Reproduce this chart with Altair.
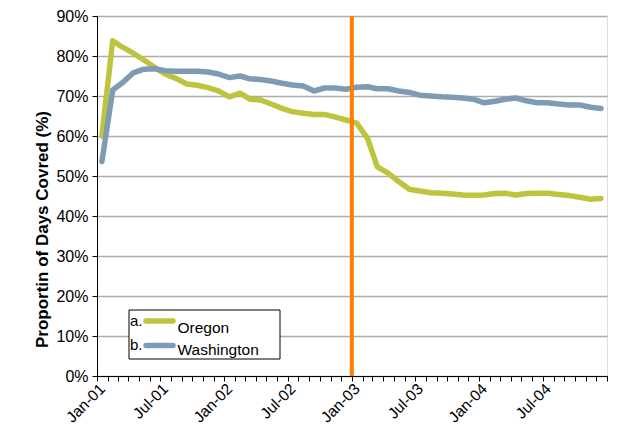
import altair as alt
import pandas as pd

# ---- data ----
dates = [f"{y}-{m:02d}-15" for y in range(2001, 2005) for m in range(1, 13)]

oregon = [60.0, 83.8, 82.2, 80.7, 79.0, 77.2, 75.5, 74.4, 73.0, 72.7, 72.1, 71.3,
          69.8, 70.7, 69.2, 69.0, 68.0, 66.9, 66.1, 65.7, 65.4, 65.4, 64.7, 64.0,
          63.2, 59.4, 52.3, 50.7, 48.6, 46.7, 46.25, 45.8, 45.7, 45.5, 45.25, 45.2,
          45.25, 45.6, 45.7, 45.25, 45.6, 45.7, 45.7, 45.4, 45.1, 44.7, 44.2, 44.4]

washington = [53.6, 71.5, 73.3, 75.8, 76.7, 76.8, 76.3, 76.2, 76.2, 76.2, 76.0, 75.5,
              74.6, 75.0, 74.3, 74.1, 73.75, 73.2, 72.75, 72.5, 71.25, 72.0, 72.0, 71.7,
              72.2, 72.3, 71.8, 71.8, 71.25, 70.9, 70.2, 70.0, 69.8, 69.7, 69.5, 69.2,
              68.3, 68.7, 69.2, 69.5, 68.8, 68.3, 68.3, 68.0, 67.75, 67.75, 67.2, 66.9]

series_names = ["Oregon", "Washington"]
series_prefix = ["a.", "b."]
series_colors = ["#BFC43F", "#7F9AB3"]
y_ticks = [0, 10, 20, 30, 40, 50, 60, 70, 80, 90]
event_date = ["2003-01-01"]
axis_start, axis_end = "2001-01-01", "2005-01-01"
y_title = "Proportin of Days Covred (%)"

df = pd.DataFrame({
    "date": dates * 2,
    "value": oregon + washington,
    "series": ["Oregon"] * len(dates) + ["Washington"] * len(dates),
})


def ms(s):
    return int(pd.Timestamp(s, tz="UTC").value // 10**6)


tick_ms = [ms(d) for d in pd.date_range(axis_start, axis_end, freq="MS")]

FONT = "Liberation Sans"

x_enc = alt.X(
    "date:T",
    scale=alt.Scale(type="utc", domain=[ms(axis_start), ms(axis_end)]),
    axis=alt.Axis(
        values=tick_ms, tickCount=100,
        labelExpr="(utcmonth(datum.value) == 0 || utcmonth(datum.value) == 6) && utcyear(datum.value) < 2005 ? utcFormat(datum.value, '%b-%y') : ''",
        labelAngle=315, labelAlign="right", labelBaseline="top",
        labelFontSize=15.5, labelFont=FONT, labelColor="black",
        labelPadding=0, labelOffset=0, tickSize=5, tickColor="black", domainColor="black",
        grid=False, title=None, labelOverlap=False, labelBound=False, labelFlush=False,
    ),
)

y_enc = alt.Y(
    "value:Q",
    scale=alt.Scale(domain=[0, 90], nice=False),
    axis=alt.Axis(
        values=y_ticks, labelExpr="datum.value + '%'",
        labelFontSize=16, labelFont=FONT, labelColor="black", labelPadding=4,
        tickSize=5, tickColor="black", domainColor="black",
        grid=True, gridColor="#ADADAD", gridWidth=1.5,
        title=y_title, titleFont=FONT, titleFontSize=17, titleFontWeight="bold",
        titleColor="black", titleX=-55, titleY=213, titleAngle=270,
        titleAlign="center", titleBaseline="middle",
    ),
)

lines = alt.Chart(df).mark_line(strokeWidth=5.5, strokeCap="round", strokeJoin="round").encode(
    x=x_enc, y=y_enc,
    color=alt.Color("series:N", scale=alt.Scale(domain=series_names, range=series_colors), legend=None),
)

rule = alt.Chart(pd.DataFrame({"date": event_date})).mark_rule(
    color="#FF7F00", strokeWidth=4
).encode(x="date:T")

# ---- legend box ----
legend_layers = [
    alt.Chart(pd.DataFrame({"k": [0]})).mark_rect(fill="white", stroke="black", strokeWidth=1).encode(
        x=alt.value(32), x2=alt.value(183), y=alt.value(294), y2=alt.value(343))
]
row_line_y = [305, 329.5]
row_prefix_y = [310, 334]
row_label_y = [317, 339]
for i, name in enumerate(series_names):
    legend_layers.append(
        alt.Chart(pd.DataFrame({"t": [series_prefix[i]]})).mark_text(
            align="left", baseline="alphabetic", fontSize=15, font=FONT, color="black"
        ).encode(x=alt.value(33), y=alt.value(row_prefix_y[i]), text="t:N"))
    legend_layers.append(
        alt.Chart(pd.DataFrame({"k": [0]})).mark_rule(
            strokeWidth=5.5, strokeCap="round", color=series_colors[i]
        ).encode(x=alt.value(49), x2=alt.value(76), y=alt.value(row_line_y[i])))
    legend_layers.append(
        alt.Chart(pd.DataFrame({"t": [name]})).mark_text(
            align="left", baseline="alphabetic", fontSize=15.5, font=FONT, color="black"
        ).encode(x=alt.value(80.5), y=alt.value(row_label_y[i]), text="t:N"))

chart = alt.layer(lines, rule, *legend_layers).properties(
    width=510, height=360,
    autosize=alt.AutoSizeParams(type="none"),
    padding={"left": 89, "top": 8, "right": 6, "bottom": 49},
).configure_view(stroke="black", strokeWidth=1).configure(background="white")

chart.save("out.html", embed_options={"renderer": "svg", "actions": False})
